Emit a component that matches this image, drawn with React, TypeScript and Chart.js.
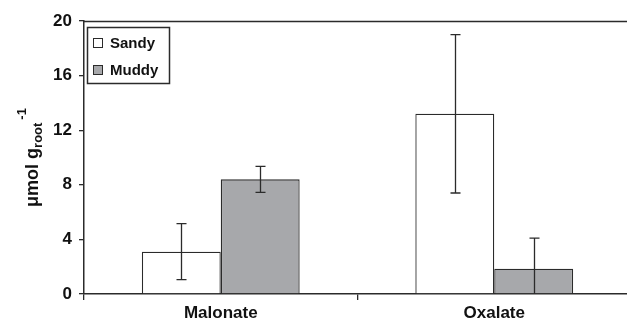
import React, { useEffect, useRef } from "react";
import { Chart, registerables } from "chart.js";

Chart.register(...registerables);

const categories = ["Malonate", "Oxalate"];
const seriesNames = ["Sandy", "Muddy"];
const sandyValues = [3.1, 13.2];
const sandyErrors = [2.05, 5.8];
const muddyValues = [8.4, 1.85];
const muddyErrors = [0.95, 2.25];
const yTicks = [0, 4, 8, 12, 16, 20];

const FONT = "Arial, 'Liberation Sans', sans-serif";
const DARK = "#2b2b2b";

const errorBarPlugin = {
  id: "errorBars",
  afterDatasetsDraw(chart: any) {
    const ctx = chart.ctx;
    const y = chart.scales.y;
    chart.data.datasets.forEach((ds: any, i: number) => {
      const meta = chart.getDatasetMeta(i);
      meta.data.forEach((el: any, j: number) => {
        const v = ds.data[j];
        const e = ds.errors[j];
        const top = y.getPixelForValue(v + e);
        const lowVal = v - e;
        const bot = y.getPixelForValue(Math.max(0, lowVal));
        const x = Math.round(el.x) + 0.5;
        ctx.save();
        ctx.strokeStyle = DARK;
        ctx.lineWidth = 1.3;
        ctx.beginPath();
        ctx.moveTo(x, top);
        ctx.lineTo(x, bot);
        ctx.moveTo(x - 5, top);
        ctx.lineTo(x + 5, top);
        if (lowVal > 0) {
          ctx.moveTo(x - 5, bot);
          ctx.lineTo(x + 5, bot);
        }
        ctx.stroke();
        ctx.restore();
      });
    });
  },
};

const decorPlugin = {
  id: "decor",
  afterDraw(chart: any) {
    const ctx = chart.ctx;
    const { top, left, bottom } = chart.chartArea;
    ctx.save();
    // top frame line
    ctx.strokeStyle = DARK;
    ctx.lineWidth = 1.5;
    ctx.beginPath();
    ctx.moveTo(left, top + 0.5);
    ctx.lineTo(chart.width, top + 0.5);
    ctx.stroke();

    // legend box
    ctx.fillStyle = "#fff";
    ctx.fillRect(87.5, 27.5, 82, 56);
    ctx.strokeRect(87.5, 27.5, 82, 56);
    ctx.font = `bold 15px ${FONT}`;
    ctx.textBaseline = "middle";
    ctx.textAlign = "left";
    chart.data.datasets.forEach((ds: any, i: number) => {
      const cy = 43 + i * 27;
      ctx.fillStyle = ds.backgroundColor;
      ctx.fillRect(93.5, cy - 4.5, 9, 9);
      ctx.lineWidth = 1;
      ctx.strokeStyle = DARK;
      ctx.strokeRect(93.5, cy - 4.5, 9, 9);
      ctx.fillStyle = "#111";
      ctx.fillText(ds.label, 110, cy + 1);
    });

    // y axis title: μmol g_root^-1
    const parts = [
      { t: "\u03bcmol g", size: 18, dy: 0 },
      { t: "root", size: 13, dy: 4 },
      { t: "-1", size: 13, dy: -12 },
    ];
    let total = 0;
    parts.forEach((p) => {
      ctx.font = `bold ${p.size}px ${FONT}`;
      total += ctx.measureText(p.t).width + (p.t === "-1" ? 3 : 0);
    });
    ctx.translate(38, (top + bottom) / 2);
    ctx.rotate(-Math.PI / 2);
    ctx.fillStyle = "#111";
    ctx.textBaseline = "alphabetic";
    let x = -total / 2;
    parts.forEach((p) => {
      ctx.font = `bold ${p.size}px ${FONT}`;
      if (p.t === "-1") x += 3;
      ctx.fillText(p.t, x, p.dy);
      x += ctx.measureText(p.t).width;
    });
    ctx.restore();
  },
};

export default function App() {
  const ref = useRef<HTMLCanvasElement>(null);
  useEffect(() => {
    const chart = new Chart(ref.current!, {
      type: "bar",
      data: {
        labels: categories,
        datasets: [
          {
            label: seriesNames[0],
            data: sandyValues,
            errors: sandyErrors,
            backgroundColor: "#ffffff",
            borderColor: DARK,
            borderWidth: 1.3,
            categoryPercentage: 0.577,
            barPercentage: 1,
          } as any,
          {
            label: seriesNames[1],
            data: muddyValues,
            errors: muddyErrors,
            backgroundColor: "#a7a8ab",
            borderColor: DARK,
            borderWidth: 1.3,
            categoryPercentage: 0.577,
            barPercentage: 1,
          } as any,
        ],
      },
      options: {
        animation: false,
        responsive: false,
        maintainAspectRatio: false,
        layout: { padding: { left: 0, right: 0, top: 21, bottom: 0 } },
        plugins: { legend: { display: false }, tooltip: { enabled: false } },
        scales: {
          x: {
            grid: {
              drawOnChartArea: false,
              offset: true,
              tickLength: 6,
              color: DARK,
              lineWidth: 1.3,
            },
            border: { display: true, color: DARK, width: 1.5 },
            ticks: {
              color: "#111",
              font: { family: FONT, size: 17, weight: "bold" },
              padding: 3,
            },
            afterFit: (s: any) => {
              s.height = 28;
            },
          },
          y: {
            min: 0,
            max: 20,
            afterBuildTicks: (s: any) => {
              s.ticks = yTicks.map((v) => ({ value: v }));
            },
            grid: {
              drawOnChartArea: false,
              tickLength: 5,
              color: DARK,
              lineWidth: 1.3,
            },
            border: { display: true, color: DARK, width: 1.5 },
            ticks: {
              color: "#111",
              font: { family: FONT, size: 17, weight: "bold" },
              padding: 7,
            },
            afterFit: (s: any) => {
              s.width = 84;
            },
          },
        },
      } as any,
      plugins: [errorBarPlugin, decorPlugin],
    });
    return () => chart.destroy();
  }, []);
  return (
    <div
      style={{
        position: "absolute",
        left: 0,
        top: 0,
        width: 627,
        height: 322,
        overflow: "hidden",
      }}
    >
      <canvas ref={ref} width={631} height={322} style={{ display: "block" }} />
    </div>
  );
}
